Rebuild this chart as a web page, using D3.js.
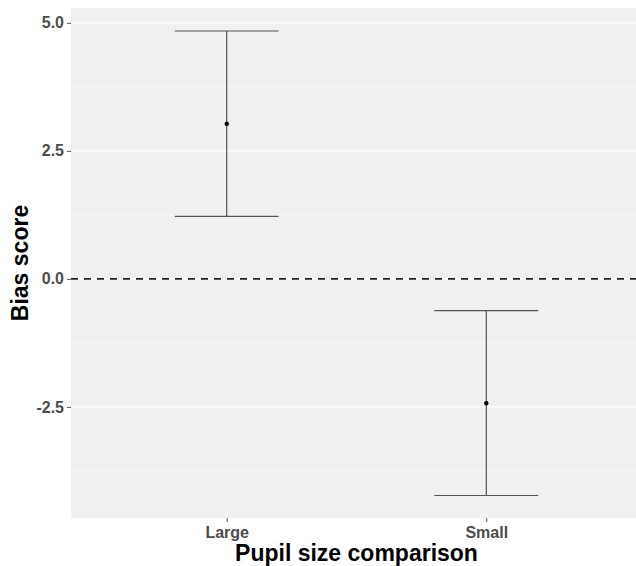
<!DOCTYPE html>
<html>
<head>
<meta charset="utf-8">
<script src="https://cdn.jsdelivr.net/npm/d3@7"></script>
<style>
  body { margin: 0; background: #fff; }
  text { font-family: "Liberation Sans", Arial, sans-serif; }
</style>
</head>
<body>
<svg width="636" height="566"></svg>
<script>
// data
var groups = ["Large", "Small"];
var means  = [3.03, -2.43];
var lowers = [1.22, -4.23];
var uppers = [4.84, -0.62];
var yMajor = [5.0, 2.5, 0.0, -2.5];
var yMinor = [3.75, 1.25, -1.25, -3.75];

var data = groups.map(function(g, i) {
  return {group: g, mean: means[i], lo: lowers[i], hi: uppers[i]};
});

var svg = d3.select("svg"),
    width = +svg.attr("width"),
    height = +svg.attr("height");

var panel = {left: 71, top: 8, right: 642, bottom: 518};

var x = d3.scalePoint()
    .domain(groups)
    .range([panel.left, panel.right])
    .padding(0.6);

var y = d3.scaleLinear()
    .domain([-4.67, 5.29])
    .range([panel.bottom, panel.top]);

var capHalf = x.step() * 0.2;

//plain hyphen for negatives, like the original
var fmt = function(d) { return d.toFixed(1); };

//panel background
svg.append("rect")
    .attr("x", panel.left)
    .attr("y", panel.top)
    .attr("width", panel.right - panel.left)
    .attr("height", panel.bottom - panel.top)
    .attr("fill", "#f0f0f0");

//grid lines
svg.append("g").selectAll("line")
    .data(yMinor)
    .enter().append("line")
    .attr("x1", panel.left).attr("x2", panel.right)
    .attr("y1", function(d) { return y(d); })
    .attr("y2", function(d) { return y(d); })
    .attr("stroke", "#fff")
    .attr("stroke-width", 0.6);

svg.append("g").selectAll("line")
    .data(yMajor)
    .enter().append("line")
    .attr("x1", panel.left).attr("x2", panel.right)
    .attr("y1", function(d) { return y(d); })
    .attr("y2", function(d) { return y(d); })
    .attr("stroke", "#fff")
    .attr("stroke-width", 1.1);

//axes
var yAxis = svg.append("g")
    .attr("transform", "translate(" + panel.left + ",0)")
    .call(d3.axisLeft(y).tickValues(yMajor).tickFormat(fmt).tickSize(4).tickPadding(3));

var xAxis = svg.append("g")
    .attr("transform", "translate(0," + panel.bottom + ")")
    .call(d3.axisBottom(x).tickSize(4).tickPadding(5));

[yAxis, xAxis].forEach(function(a) {
  a.select(".domain").remove();
  a.selectAll(".tick line").attr("stroke", "#555");
  a.selectAll(".tick text")
      .attr("fill", "#4d4d4d")
      .style("font-size", "16px")
      .style("font-weight", "bold")
      .style("font-family", "'Liberation Sans', Arial, sans-serif");
});

//zero reference line
svg.append("line")
    .attr("x1", panel.left).attr("x2", width)
    .attr("y1", y(0)).attr("y2", y(0))
    .attr("stroke", "#222")
    .attr("stroke-width", 1.6)
    .attr("stroke-dasharray", "7,6");

//error bars
var bars = svg.append("g").selectAll("g")
    .data(data)
    .enter().append("g");

bars.append("line")
    .attr("x1", function(d) { return x(d.group); })
    .attr("x2", function(d) { return x(d.group); })
    .attr("y1", function(d) { return y(d.hi); })
    .attr("y2", function(d) { return y(d.lo); })
    .attr("stroke", "#444")
    .attr("stroke-width", 1.1);

bars.selectAll("line.cap")
    .data(function(d) { return [{g: d.group, v: d.hi}, {g: d.group, v: d.lo}]; })
    .enter().append("line")
    .attr("class", "cap")
    .attr("x1", function(d) { return x(d.g) - capHalf; })
    .attr("x2", function(d) { return x(d.g) + capHalf; })
    .attr("y1", function(d) { return y(d.v); })
    .attr("y2", function(d) { return y(d.v); })
    .attr("stroke", "#555")
    .attr("stroke-width", 1.1);

bars.append("circle")
    .attr("cx", function(d) { return x(d.group); })
    .attr("cy", function(d) { return y(d.mean); })
    .attr("r", 2.2)
    .attr("fill", "#000");

//axis titles
svg.append("text")
    .attr("x", (panel.left + panel.right) / 2)
    .attr("y", 561)
    .attr("text-anchor", "middle")
    .style("font-size", "23px")
    .style("font-weight", "bold")
    .attr("fill", "#000")
    .text("Pupil size comparison");

svg.append("text")
    .attr("transform", "translate(28," + (panel.top + panel.bottom) / 2 + ") rotate(-90)")
    .attr("text-anchor", "middle")
    .style("font-size", "23px")
    .style("font-weight", "bold")
    .attr("fill", "#000")
    .text("Bias score");
</script>
</body>
</html>
